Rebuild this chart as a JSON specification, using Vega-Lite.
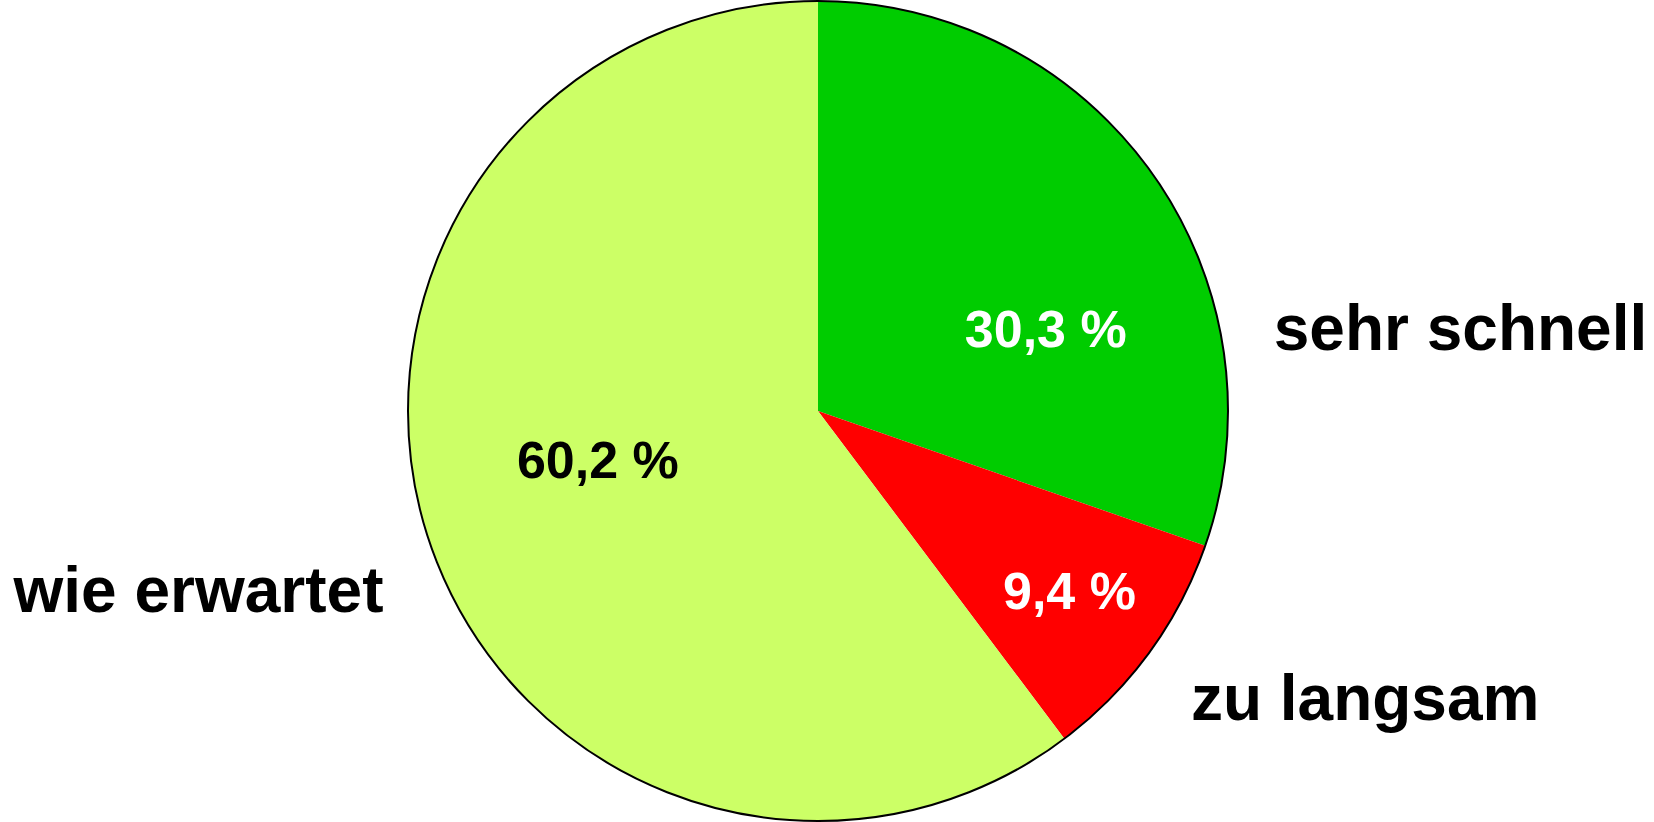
{
  "$schema": "https://vega.github.io/schema/vega-lite/v6.json",
  "width": 1636,
  "height": 822,
  "padding": {"left": 0, "top": 0, "right": 18, "bottom": 0},
  "autosize": {"type": "none"},
  "background": "white",
  "config": {"view": {"stroke": null}, "font": "Liberation Sans"},
  "data": {"values": [
    {"kategorie": "sehr schnell", "anteil": 30.3, "label": "30,3 %", "nr": 1},
    {"kategorie": "zu langsam", "anteil": 9.4, "label": "9,4 %", "nr": 2},
    {"kategorie": "wie erwartet", "anteil": 60.2, "label": "60,2 %", "nr": 3}
  ]},
  "layer": [
    {
      "mark": {"type": "arc", "outerRadius": 410},
      "encoding": {
        "theta": {"field": "anteil", "type": "quantitative", "stack": true},
        "order": {"field": "nr", "type": "quantitative"},
        "color": {"field": "kategorie", "type": "nominal",
          "scale": {"domain": ["sehr schnell", "zu langsam", "wie erwartet"], "range": ["#00CC00", "#FF0000", "#CCFF66"]},
          "legend": null}
      }
    },
    {
      "transform": [{"aggregate": [{"op": "sum", "field": "anteil", "as": "gesamt"}]}],
      "mark": {"type": "arc", "outerRadius": 410, "fill": "transparent", "stroke": "#000000", "strokeWidth": 2},
      "encoding": {
        "theta": {"field": "gesamt", "type": "quantitative", "stack": true}
      }
    },
    {
      "mark": {"type": "text", "radius": 223, "dx": 46, "dy": 65, "align": "center", "baseline": "alphabetic", "fontSize": 52, "fontWeight": "bold", "color": "#FFFFFF"},
      "encoding": {
        "theta": {"field": "anteil", "type": "quantitative", "stack": true},
        "order": {"field": "nr", "type": "quantitative"},
        "text": {"condition": {"test": "datum.kategorie === 'sehr schnell'", "field": "label"}, "value": ""}
      }
    },
    {
      "mark": {"type": "text", "radius": 320, "dx": -7, "dy": 9, "align": "center", "baseline": "alphabetic", "fontSize": 52, "fontWeight": "bold", "color": "#FFFFFF"},
      "encoding": {
        "theta": {"field": "anteil", "type": "quantitative", "stack": true},
        "order": {"field": "nr", "type": "quantitative"},
        "text": {"condition": {"test": "datum.kategorie === 'zu langsam'", "field": "label"}, "value": ""}
      }
    },
    {
      "mark": {"type": "text", "radius": 230, "dx": -2, "dy": -6, "align": "center", "baseline": "alphabetic", "fontSize": 52, "fontWeight": "bold", "color": "#000000"},
      "encoding": {
        "theta": {"field": "anteil", "type": "quantitative", "stack": true},
        "order": {"field": "nr", "type": "quantitative"},
        "text": {"condition": {"test": "datum.kategorie === 'wie erwartet'", "field": "label"}, "value": ""}
      }
    },
    {
      "mark": {"type": "text", "radius": 407, "dx": 124, "dy": 175, "align": "left", "baseline": "alphabetic", "fontSize": 64, "fontWeight": "bold", "color": "#000000"},
      "encoding": {
        "theta": {"field": "anteil", "type": "quantitative", "stack": true},
        "order": {"field": "nr", "type": "quantitative"},
        "text": {"condition": {"test": "datum.kategorie === 'sehr schnell'", "field": "kategorie"}, "value": ""}
      }
    },
    {
      "mark": {"type": "text", "radius": 484, "dx": -18, "dy": 24, "align": "left", "baseline": "alphabetic", "fontSize": 64, "fontWeight": "bold", "color": "#000000"},
      "encoding": {
        "theta": {"field": "anteil", "type": "quantitative", "stack": true},
        "order": {"field": "nr", "type": "quantitative"},
        "text": {"condition": {"test": "datum.kategorie === 'zu langsam'", "field": "kategorie"}, "value": ""}
      }
    },
    {
      "mark": {"type": "text", "radius": 826, "dx": -21, "dy": -61, "align": "left", "baseline": "alphabetic", "fontSize": 64, "fontWeight": "bold", "color": "#000000"},
      "encoding": {
        "theta": {"field": "anteil", "type": "quantitative", "stack": true},
        "order": {"field": "nr", "type": "quantitative"},
        "text": {"condition": {"test": "datum.kategorie === 'wie erwartet'", "field": "kategorie"}, "value": ""}
      }
    }
  ]
}
